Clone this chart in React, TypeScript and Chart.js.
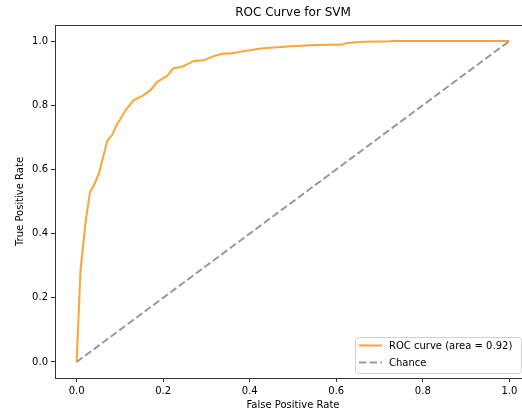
import React, { useEffect, useRef } from "react";
import { Chart, registerables } from "chart.js";

Chart.register(...registerables);

const fpr = [0, 0.009, 0.021, 0.031, 0.04, 0.052, 0.071, 0.082, 0.094, 0.1, 0.113, 0.132, 0.152, 0.171, 0.186, 0.209, 0.223, 0.244, 0.271, 0.294, 0.317, 0.34, 0.356, 0.379, 0.425, 0.494, 0.556, 0.614, 0.625, 0.664, 0.725, 0.733, 0.9, 1.0];
const tpr = [0, 0.287, 0.44, 0.53, 0.55, 0.59, 0.69, 0.707, 0.743, 0.754, 0.785, 0.816, 0.829, 0.847, 0.873, 0.891, 0.915, 0.92, 0.938, 0.94, 0.953, 0.961, 0.961, 0.967, 0.977, 0.984, 0.988, 0.989, 0.994, 0.998, 0.999, 1.0, 1.0, 1.0];
const chanceX = [0, 1];
const chanceY = [0, 1];
const tickValues = [0, 0.2, 0.4, 0.6, 0.8, 1.0];
const rocLabel = "ROC curve (area = 0.92)";
const chanceLabel = "Chance";
const titleText = "ROC Curve for SVM";

const FONT = "'DejaVu Sans', sans-serif";
const ORANGE = "rgba(255,140,0,0.8)";
const GRAY = "rgba(128,128,128,0.8)";

const framePlugin = {
  id: "frame",
  afterDraw(chart: any) {
    const { ctx, chartArea } = chart;
    ctx.save();
    ctx.strokeStyle = "#333";
    ctx.lineWidth = 1;
    ctx.strokeRect(
      Math.round(chartArea.left) + 0.5,
      Math.round(chartArea.top) + 0.5,
      Math.round(chartArea.right - chartArea.left),
      Math.round(chartArea.bottom - chartArea.top)
    );
    // legend
    const bx = 355.5, by = 337.5, bw = 166, bh = 36;
    ctx.fillStyle = "rgba(255,255,255,0.8)";
    ctx.strokeStyle = "#d0d0d0";
    ctx.beginPath();
    const r = 3;
    ctx.moveTo(bx + r, by);
    ctx.lineTo(bx + bw - r, by);
    ctx.arcTo(bx + bw, by, bx + bw, by + r, r);
    ctx.lineTo(bx + bw, by + bh - r);
    ctx.arcTo(bx + bw, by + bh, bx + bw - r, by + bh, r);
    ctx.lineTo(bx + r, by + bh);
    ctx.arcTo(bx, by + bh, bx, by + bh - r, r);
    ctx.lineTo(bx, by + r);
    ctx.arcTo(bx, by, bx + r, by, r);
    ctx.closePath();
    ctx.fill();
    ctx.stroke();
    ctx.lineWidth = 2;
    ctx.strokeStyle = ORANGE;
    ctx.beginPath();
    ctx.moveTo(359, 345.5);
    ctx.lineTo(382, 345.5);
    ctx.stroke();
    ctx.strokeStyle = GRAY;
    ctx.setLineDash([7.4, 3.2]);
    ctx.beginPath();
    ctx.moveTo(359, 362.5);
    ctx.lineTo(382, 362.5);
    ctx.stroke();
    ctx.setLineDash([]);
    ctx.fillStyle = "#000";
    ctx.font = `10px ${FONT}`;
    ctx.textBaseline = "middle";
    ctx.textAlign = "left";
    ctx.fillText(rocLabel, 389, 346);
    ctx.fillText(chanceLabel, 389, 363);
    ctx.restore();
  },
};

export default function App() {
  const ref = useRef<HTMLCanvasElement | null>(null);
  useEffect(() => {
    if (!ref.current) return;
    const setTicks = (scale: any) => {
      scale.ticks = tickValues.map((v) => ({ value: v }));
    };
    const chart = new Chart(ref.current, {
      type: "line",
      data: {
        datasets: [
          {
            label: rocLabel,
            data: fpr.map((x, i) => ({ x, y: tpr[i] })),
            borderColor: ORANGE,
            borderWidth: 2,
            pointRadius: 0,
            tension: 0,
            fill: false,
          },
          {
            label: chanceLabel,
            data: chanceX.map((x, i) => ({ x, y: chanceY[i] })),
            borderColor: GRAY,
            borderWidth: 2,
            borderDash: [7.4, 3.2],
            pointRadius: 0,
            tension: 0,
            fill: false,
          },
        ],
      },
      options: {
        responsive: false,
        animation: false,
        layout: { padding: { left: 0, right: 9, top: 0, bottom: 0 } },
        plugins: {
          legend: { display: false },
          tooltip: { enabled: false },
          title: {
            display: true,
            text: titleText,
            fullSize: false,
            color: "#000",
            font: { family: FONT, size: 12, weight: "normal" },
            padding: { top: 6, bottom: 4.6 },
          },
        },
        scales: {
          x: {
            type: "linear",
            min: -0.05,
            max: 1.05,
            afterBuildTicks: setTicks,
            afterFit: (s: any) => { s.height = 38; },
            border: { display: false },
            grid: { drawOnChartArea: false, tickLength: 4, tickColor: "#333" },
            ticks: {
              color: "#000",
              padding: 3,
              maxRotation: 0,
              font: { family: FONT, size: 10 },
              callback: (v: any) => Number(v).toFixed(1),
            },
            title: {
              display: true,
              text: "False Positive Rate",
              color: "#000",
              font: { family: FONT, size: 10 },
              padding: { top: 2, bottom: 5 },
            },
          },
          y: {
            type: "linear",
            min: -0.05,
            max: 1.05,
            afterBuildTicks: setTicks,
            afterFit: (s: any) => { s.width = 55; },
            border: { display: false },
            grid: { drawOnChartArea: false, tickLength: 4, tickColor: "#333" },
            ticks: {
              color: "#000",
              padding: 3,
              font: { family: FONT, size: 10 },
              callback: (v: any) => Number(v).toFixed(1),
            },
            title: {
              display: true,
              text: "True Positive Rate",
              color: "#000",
              font: { family: FONT, size: 10 },
              padding: { top: 14, bottom: 0 },
            },
          },
        },
      },
      plugins: [framePlugin],
    });
    return () => chart.destroy();
  }, []);
  return (
    <div style={{ position: "fixed", left: 0, top: 0, width: 522, height: 416, overflow: "hidden", background: "#fff" }}>
      <canvas ref={ref} width={540} height={416} style={{ display: "block" }} />
    </div>
  );
}
